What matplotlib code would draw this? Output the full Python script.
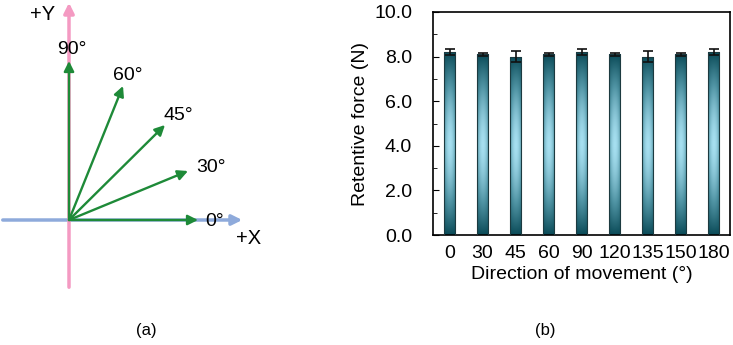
import numpy as np
import matplotlib.pyplot as plt
from matplotlib.colors import LinearSegmentedColormap
from matplotlib.ticker import MultipleLocator

plt.rcParams['font.family'] = ['Liberation Sans', 'DejaVu Sans']

# panel (b) data
directions = ['0', '30', '45', '60', '90', '120', '135', '150', '180']
force = [8.2, 8.1, 8.0, 8.1, 8.2, 8.1, 8.0, 8.1, 8.2]
force_err = [0.15, 0.08, 0.25, 0.08, 0.15, 0.08, 0.25, 0.08, 0.15]

# panel (a) diagram, in pixel units of the figure (origin at the axis cross)
arrow_labels = ['0°', '30°', '45°', '60°', '90°']
arrow_dx = [129, 119, 96, 54, 0]
arrow_dy = [0, 49, 95, 134, 159]
label_dx = [146, 142, 109, 59, 3]
label_dy = [-1, 52, 105, 145, 170]
origin = (69, 220)

fig = plt.figure(figsize=(7.33, 3.45), dpi=100)

# ---- panel (a)
ax1 = fig.add_axes([0, 0, 1, 1])
ax1.set_xlim(0, 733)
ax1.set_ylim(345, 0)
ax1.axis('off')
ox, oy = origin
ax1.annotate('', xy=(245, oy), xytext=(0, oy),
             arrowprops=dict(arrowstyle='-|>', color='#8eaadb', lw=2.5, mutation_scale=15))
ax1.annotate('', xy=(ox, 0), xytext=(ox, 290),
             arrowprops=dict(arrowstyle='-|>', color='#f49ac2', lw=2.5, mutation_scale=15))
for lab, dx, dy, lx, ly in zip(arrow_labels, arrow_dx, arrow_dy, label_dx, label_dy):
    ax1.annotate('', xy=(ox + dx, oy - dy), xytext=(ox, oy),
                 arrowprops=dict(arrowstyle='-|>', color='#1e8a38', lw=1.7,
                                 mutation_scale=15, shrinkA=0, shrinkB=0))
    ax1.text(ox + lx, oy - ly, lab, fontsize=14, ha='center', va='center')
ax1.text(249, 239, '+X', fontsize=14.5, ha='center', va='center')
ax1.text(43, 14, '+Y', fontsize=14.5, ha='center', va='center')
ax1.text(146, 330, '(a)', fontsize=12, ha='center', va='center')
ax1.text(545, 330, '(b)', fontsize=12, ha='center', va='center')

# ---- panel (b)
ax2 = fig.add_axes([433 / 733, 110 / 345, 297 / 733, 223 / 345])
x = np.arange(len(directions))
width = 0.34
bars = ax2.bar(x, force, width, color='none', edgecolor='#1c3a40', linewidth=0.8, zorder=3)
ax2.errorbar(x, force, yerr=force_err, fmt='none', ecolor='#111111',
             elinewidth=1.2, capsize=3.5, capthick=1.2, zorder=4)

cmap = LinearSegmentedColormap.from_list('teal', ['#0b4b58', '#4f93a3', '#a6dff0'])
vv = np.linspace(0, 1, 200)[:, None]
hh = np.linspace(0, 1, 40)[None, :]
shade = (1 - np.abs(2 * vv - 1) ** 1.6) * (1 - 0.45 * np.abs(2 * hh - 1) ** 2)
for b in bars:
    x0, w, h = b.get_x(), b.get_width(), b.get_height()
    im = ax2.imshow(shade, cmap=cmap, aspect='auto', origin='lower',
                    extent=(x0, x0 + w, 0, h), zorder=2, vmin=0, vmax=1)
    im.set_clip_path(b)

ax2.set_xlim(-0.5, len(directions) - 0.5)
ax2.set_ylim(0, 10)
ax2.set_xticks(x)
ax2.set_xticklabels(directions)
ax2.tick_params(axis='x', length=0, labelsize=14, pad=7)
ax2.yaxis.set_major_locator(MultipleLocator(2))
ax2.yaxis.set_minor_locator(MultipleLocator(1))
ax2.yaxis.set_major_formatter('{x:.1f}')
ax2.tick_params(axis='y', which='both', direction='in', labelsize=14, pad=15)
ax2.tick_params(axis='y', which='major', length=4)
ax2.tick_params(axis='y', which='minor', length=3)
ax2.set_xlabel('Direction of movement (°)', fontsize=14, labelpad=3)
ax2.set_ylabel('Retentive force (N)', fontsize=14, labelpad=4)
for s in ax2.spines.values():
    s.set_linewidth(1.2)

fig.savefig('out.png', dpi=100)
